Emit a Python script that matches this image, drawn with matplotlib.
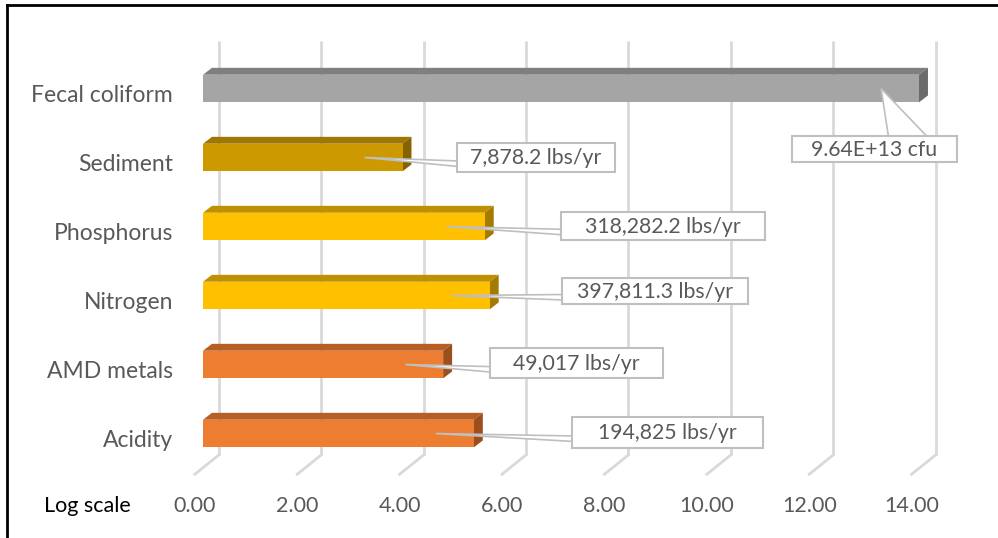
import numpy as np
import matplotlib.pyplot as plt
from matplotlib.patches import Polygon, Rectangle
from matplotlib.lines import Line2D

plt.rcParams['font.family'] = ['Lato', 'DejaVu Sans']

# data (raw loads, plotted on a log10 scale)
categories = ['Fecal coliform', 'Sediment', 'Phosphorus', 'Nitrogen', 'AMD metals', 'Acidity']
loads = [9.64e13, 7878.2, 318282.2, 397811.3, 49017, 194825]
value_labels = ['9.64E+13 cfu', '7,878.2 lbs/yr', '318,282.2 lbs/yr',
                '397,811.3 lbs/yr', '49,017 lbs/yr', '194,825 lbs/yr']
ticks = [0, 2, 4, 6, 8, 10, 12, 14]

# colours: front, top, side
front_cols = ['#A5A5A5', '#CC9900', '#FFC000', '#FFC000', '#ED7D31', '#ED7D31']
top_cols = ['#7F7F7F', '#A07800', '#BF9000', '#BF9000', '#B65E24', '#B65E24']
side_cols = ['#6B6B6B', '#846300', '#A37B00', '#A37B00', '#9C4E1B', '#9C4E1B']

# label box placement (x centre, y offset from category, width, height)
box_x = [13.11, 6.50, 8.98, 8.83, 7.29, 9.07]
box_dy = [0.88, 0.0, -0.01, -0.065, -0.02, -0.015]
box_w = [3.22, 3.09, 3.98, 3.63, 3.38, 3.73]
box_h = [0.38, 0.42, 0.41, 0.38, 0.43, 0.45]

vals = np.log10(loads)

fig = plt.figure(figsize=(9.98, 5.38), dpi=100)
ax = fig.add_axes([0, 0, 1, 1])
ax.set_xlim(-3.965, 15.527)
ax.set_ylim(6.514, -1.283)
ax.axis('off')

grid_col = '#D9D9D9'
txt_col = '#595959'
depth_x, depth_y = 0.175, 0.10      # bar depth
back_x = 0.31                       # back wall offset
front_x = -0.16

# gridlines: back wall + floor diagonals
for t in ticks:
    ax.plot([t + back_x, t + back_x], [-0.69, 5.31], color=grid_col, lw=2, zorder=1,
            solid_capstyle='butt')
    ax.plot([t + back_x, t + front_x], [5.31, 5.59], color=grid_col, lw=2, zorder=1)
    ax.text(t + front_x, 6.05, f'{t:.2f}', ha='center', va='center',
            fontsize=15.5, color=txt_col)

ax.text(-2.25, 6.05, 'Log scale', ha='center', va='center', fontsize=15.5, color='black')

h = 0.2
for i, (cat, v) in enumerate(zip(categories, vals)):
    y0, y1 = i - h, i + h
    # top face
    ax.add_patch(Polygon([(0, y0), (depth_x, y0 - depth_y), (v + depth_x, y0 - depth_y), (v, y0)],
                         closed=True, fc=top_cols[i], ec='none', zorder=3))
    # side face
    ax.add_patch(Polygon([(v, y0), (v + depth_x, y0 - depth_y), (v + depth_x, y1 - depth_y), (v, y1)],
                         closed=True, fc=side_cols[i], ec='none', zorder=3))
    # front face
    ax.add_patch(Rectangle((0, y0), v, y1 - y0, fc=front_cols[i], ec='none', zorder=4))
    ax.text(-0.586, i + 0.1, cat, ha='right', va='center', fontsize=16.5, color=txt_col)

    # data label callout
    px, py = v - 0.74, i
    bx, by = box_x[i], i + box_dy[i]
    bw, bh = box_w[i], box_h[i]
    left, top = bx - bw / 2, by - bh / 2
    if by - i > 0.5:
        wedge = [(px, py), (bx + 0.28, top + 0.02), (bx + 1.05, top + 0.02)]
    else:
        wedge = [(px, py), (left + 0.03, by + 0.05), (left + 0.03, by + 0.13)]
    ax.add_patch(Polygon(wedge, closed=True, fc='white', ec='#BFBFBF', lw=1.2, zorder=5))
    ax.add_patch(Rectangle((left, top), bw, bh, fc='white', ec='#BFBFBF', lw=1.5, zorder=6))
    ax.text(bx, by + 0.01, value_labels[i], ha='center', va='center', fontsize=15.3,
            color=txt_col, zorder=7)

# outer frame (cut off at right and bottom)
fig.add_artist(Line2D([7 / 998, 7 / 998], [0, 1 - 5 / 538], color='black', lw=2))
fig.add_artist(Line2D([7 / 998, 1], [1 - 5 / 538, 1 - 5 / 538], color='black', lw=2))

fig.savefig('out.png', dpi=100)
